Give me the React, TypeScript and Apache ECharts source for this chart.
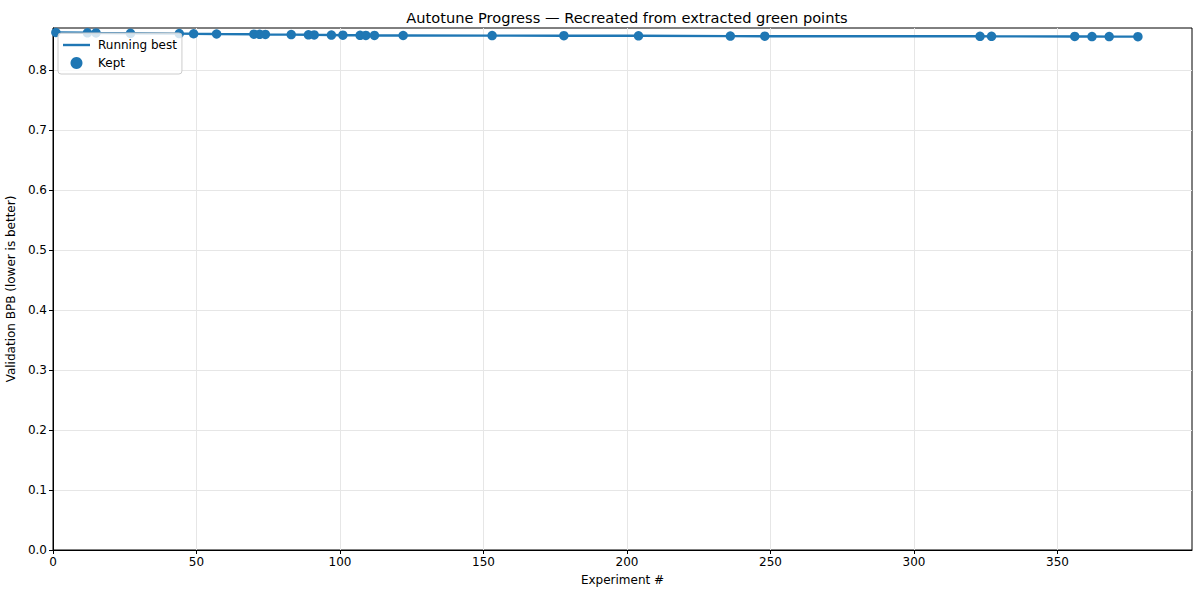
import React, { useEffect, useRef } from "react";
import * as echarts from "echarts";

const experiments = [1, 12, 15, 27, 44, 49, 57, 70, 72, 74, 83, 89, 91, 97, 101, 107, 109, 112, 122, 153, 178, 204, 236, 248, 323, 327, 356, 362, 368, 378];
const keptBpb = [0.8625, 0.862, 0.8617, 0.8612, 0.8607, 0.8604, 0.86, 0.8597, 0.8595, 0.8592, 0.859, 0.8587, 0.8585, 0.8583, 0.858, 0.8578, 0.8577, 0.8576, 0.8575, 0.8573, 0.8572, 0.857, 0.8565, 0.8563, 0.8562, 0.8561, 0.8559, 0.8558, 0.8557, 0.8556];
const xTicks = [0, 50, 100, 150, 200, 250, 300, 350];
const yTicks = [0, 0.1, 0.2, 0.3, 0.4, 0.5, 0.6, 0.7, 0.8];

const FONT = "DejaVu Sans";
const BLUE = "#1f77b4";

export default function App() {
  const ref = useRef<HTMLDivElement>(null);
  useEffect(() => {
    if (!ref.current) return;
    const chart = echarts.init(ref.current, null, { renderer: "svg" });
    const pts = experiments.map((x, i) => [x, keptBpb[i]]);
    chart.setOption({
      animation: false,
      backgroundColor: "#ffffff",
      title: {
        text: "Autotune Progress — Recreated from extracted green points",
        left: 622,
        top: 5,
        textAlign: "center",
        textStyle: { fontFamily: FONT, fontSize: 14.6, fontWeight: "normal", color: "#000" },
      },
      legend: {
        orient: "vertical",
        left: 58,
        top: 33,
        padding: [6, 5, 5, 5],
        itemGap: 6,
        itemWidth: 27,
        itemHeight: 12,
        backgroundColor: "rgba(255,255,255,0.8)",
        borderColor: "#cccccc",
        borderWidth: 1,
        borderRadius: 3,
        textStyle: { fontFamily: FONT, fontSize: 12, color: "#000", padding: [0, 0, 0, 3] },
        data: [
          { name: "Running best", icon: "path://M0,0 L28,0 L28,2.5 L0,2.5 Z" },
          { name: "Kept", icon: "circle" },
        ],
      },
      grid: {
        left: 53,
        right: 8,
        top: 28,
        bottom: 46,
        outerBoundsMode: "none",
        containLabel: false,
        show: true,
        borderColor: "#000",
        borderWidth: 1,
        backgroundColor: "transparent",
      },
      xAxis: {
        type: "value",
        min: 0,
        max: 396.85,
        interval: 50,
        name: "Experiment #",
        nameLocation: "middle",
        nameGap: 24,
        nameTextStyle: { fontFamily: FONT, fontSize: 12, color: "#000" },
        axisLine: { show: true, lineStyle: { color: "#000", width: 1 } },
        axisTick: { show: true, length: 4, lineStyle: { color: "#000" }, customValues: xTicks },
        axisLabel: {
          fontFamily: FONT,
          fontSize: 12,
          color: "#000",
          margin: 6,
          customValues: xTicks,
          formatter: (v: number) => String(v),
        },
        splitLine: { show: true, lineStyle: { color: "#e6e6e6", width: 1 } },
      },
      yAxis: {
        type: "value",
        min: 0,
        max: 0.87,
        interval: 0.1,
        name: "Validation BPB (lower is better)",
        nameLocation: "middle",
        nameGap: 31,
        nameTextStyle: { fontFamily: FONT, fontSize: 12, color: "#000" },
        axisLine: { show: true, lineStyle: { color: "#000", width: 1 } },
        axisTick: { show: true, length: 4, lineStyle: { color: "#000" }, customValues: yTicks },
        axisLabel: {
          fontFamily: FONT,
          fontSize: 12,
          color: "#000",
          margin: 6,
          customValues: yTicks,
          formatter: (v: number) => v.toFixed(1),
        },
        splitLine: { show: true, lineStyle: { color: "#e6e6e6", width: 1 } },
      },
      series: [
        {
          name: "Running best",
          type: "line",
          data: pts,
          showSymbol: false,
          symbol: "none",
          lineStyle: { color: BLUE, width: 2.4 },
          itemStyle: { color: BLUE },
          z: 2,
        },
        {
          name: "Kept",
          type: "scatter",
          data: pts,
          symbol: "circle",
          symbolSize: 9.5,
          itemStyle: { color: BLUE, opacity: 1 },
          z: 3,
        },
      ],
    });
    return () => chart.dispose();
  }, []);
  return (
    <div
      ref={ref}
      style={{ position: "fixed", left: 0, top: 0, width: 1200, height: 596 }}
    />
  );
}
